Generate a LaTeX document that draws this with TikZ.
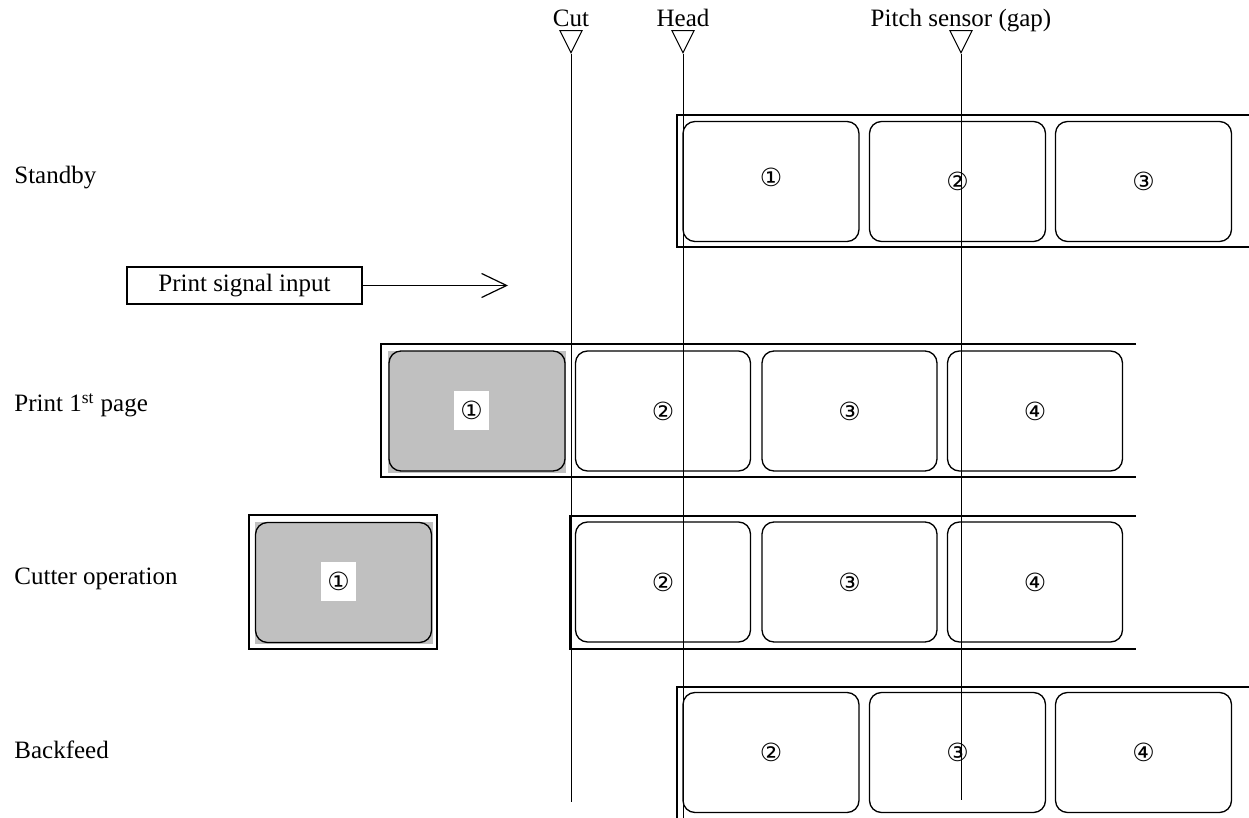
\documentclass[tikz,border=0pt]{standalone}
\usepackage{fontspec}
\setmainfont{Liberation Serif}
\newfontfamily\circfont{DejaVu Sans}
\usepackage{xcolor}
\definecolor{labelgray}{RGB}{192,192,192}
\usetikzlibrary{arrows.meta,positioning,shapes.geometric}

\begin{document}
\begin{tikzpicture}[x=0.5pt, y=-0.5pt,
    sticker/.style={rectangle, rounded corners=6pt, minimum width=88pt, minimum height=60pt,
      draw, line width=0.65pt, inner sep=0pt, font=\circfont\fontsize{12.5}{14}\selectfont},
    backing/.style={rectangle, fill=labelgray, minimum width=89pt, minimum height=61pt, inner sep=0pt},
    numbox/.style={rectangle, fill=white, minimum width=17.5pt, minimum height=19.5pt,
      inner sep=0pt, font=\circfont\fontsize{12.5}{14}\selectfont},
    strip/.style={line width=0.75pt},
    rowname/.style={anchor=base west, inner sep=0pt, font=\fontsize{12.5}{15}\selectfont},
    sensor/.style={isosceles triangle, isosceles triangle stretches, shape border rotate=-90,
      minimum width=11pt, minimum height=11pt, inner sep=0pt, draw, line width=0.5pt, anchor=apex},
    sensorname/.style={anchor=base, inner sep=0pt, font=\fontsize{12.5}{15}\selectfont},
    sensorline/.style={line width=0.5pt},
    signal/.style={rectangle, draw, line width=0.6pt, minimum width=117.5pt, minimum height=18.5pt,
      inner sep=0pt, font=\fontsize{12.5}{15}\selectfont},
    arrow/.style={line width=0.6pt, -{Straight Barb[length=12.5pt, width=12pt]}}
  ]
    \useasboundingbox (0,0) rectangle (1249,818);

    % Row names
    \node[rowname] (standby) at (14,184) {Standby};
    \node[rowname] (print) at (14,412) {Print 1\textsuperscript{st} page};
    \node[rowname] (cutter) at (14,584) {Cutter operation};
    \node[rowname] (backfeed) at (14,758) {Backfeed};

    % Print signal
    \node[signal] (sig) at (244.5,285.5) {Print signal input};
    \coordinate (sigend) at (508,285.5);
    \draw[arrow] (sig.east) -- (sigend);

    % Standby strip
    \draw[strip] (1249,115) -| (677,247) -- (1249,247);
    \node[sticker] (s1) at (771,181.5) {\raisebox{4.5pt}{①}};
    \node[sticker] (s2) at (957.5,181.5) {②};
    \node[sticker] (s3) at (1143.5,181.5) {③};

    % Print 1st page strip
    \draw[strip] (1136,344) -| (381,477) -- (1136,477);
    \node[backing] (p1bg) at (477,412) {};
    \node[sticker] (p1) at (477,411) {};
    \node[numbox] (p1num) at (471.5,410.5) {①};
    \node[sticker, minimum width=87.5pt] (p2) at (663,411) {②};
    \node[sticker, minimum width=87.5pt] (p3) at (849.5,411) {③};
    \node[sticker, minimum width=87.5pt] (p4) at (1035,411) {④};

    % Cutter operation strip
    \draw[strip] (1136,516) -| (570,649) -- (1136,649);
    \node[rectangle, draw, line width=0.75pt, minimum width=94pt, minimum height=67pt] (c1frame) at (343,582) {};
    \node[backing] (c1bg) at (344,582.5) {};
    \node[sticker] (c1) at (343.5,582.5) {};
    \node[numbox] (c1num) at (338.5,581.5) {①};
    \node[sticker, minimum width=87.5pt] (c2) at (663,582) {②};
    \node[sticker, minimum width=87.5pt] (c3) at (849.5,582) {③};
    \node[sticker, minimum width=87.5pt] (c4) at (1035,582) {④};

    % Backfeed strip
    \draw[strip] (1249,687) -| (677,818);
    \node[sticker] (b2) at (771,752.5) {②};
    \node[sticker] (b3) at (957.5,752.5) {③};
    \node[sticker] (b4) at (1143.5,752.5) {④};

    % Sensor positions
    \node[sensor] (cut) at (571,54) {};
    \node[sensor] (head) at (683,54) {};
    \node[sensor] (pitch) at (961,54) {};
    \node[sensorname] (cutname) at (571,27) {Cut};
    \node[sensorname] (headname) at (683,27) {Head};
    \node[sensorname] (pitchname) at (961,27) {Pitch sensor (gap)};
    \coordinate (cutend) at (571,802);
    \coordinate (headend) at (683,818);
    \coordinate (pitchend) at (961,800);
    \draw[sensorline] (cut.apex) -- (cutend);
    \draw[sensorline] (head.apex) -- (headend);
    \draw[sensorline] (pitch.apex) -- (pitchend);
  \end{tikzpicture}
\end{document}
